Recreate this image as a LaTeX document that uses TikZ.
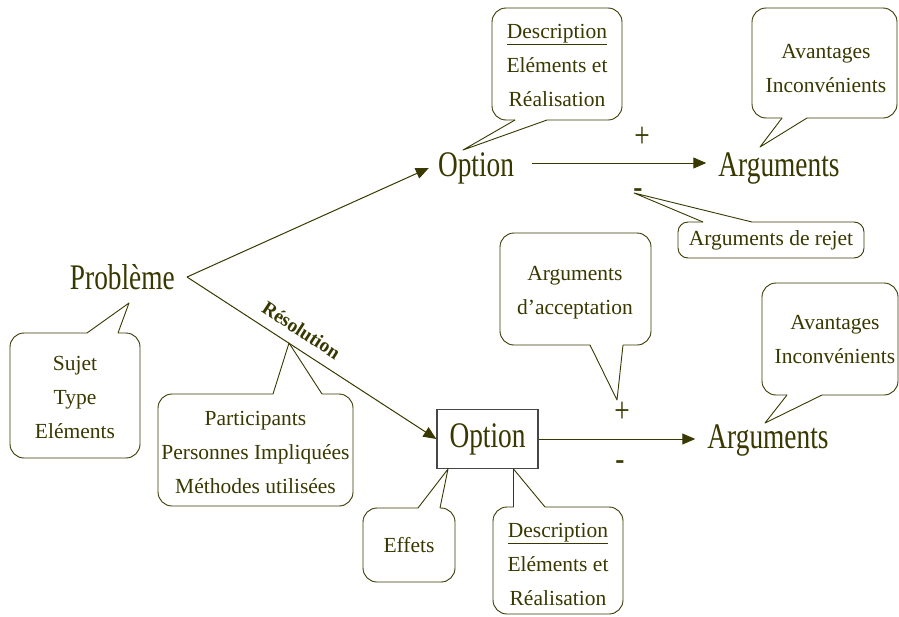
\documentclass[tikz,border=0pt]{standalone}
\usepackage{fontspec}
\setmainfont{Liberation Serif}
\newfontfamily\condfont{Liberation Serif}[FakeStretch=0.76]
\usetikzlibrary{arrows.meta}

\definecolor{ink}{RGB}{56,56,0}
\definecolor{boxgray}{RGB}{70,70,70}

\begin{document}
\begin{tikzpicture}[x=1pt, y=-1pt,
    bigtxt/.style={font=\condfont\fontsize{36}{36}\selectfont, text=ink},
    smalltxt/.style={font=\fontsize{21.5}{34}\selectfont, text=ink, align=center},
    link/.style={draw=ink, line width=1pt, -{Triangle[length=13pt, width=11pt]}},
    bubble/.style={draw=ink, line width=0.9pt, rounded corners=14pt},
    tail/.style={draw=ink, line width=0.9pt, line join=round}]

  \useasboundingbox (0,0) rectangle (899,616);

  % === Main chain ===
  \node[bigtxt, anchor=east, inner xsep=12pt] (prob) at (187,277) {Problème};
  \node[bigtxt, inner xsep=9pt] (opt1) at (476,168) {Option};
  \node[bigtxt, inner xsep=12pt] (arg1) at (779,168) {Arguments};
  \node[bigtxt, draw=boxgray, line width=1.2pt, minimum width=101pt, minimum height=59pt] (opt2) at (487.5,439) {Option};
  \node[bigtxt, inner xsep=12pt] (arg2) at (768,440) {Arguments};

  \draw[link] (prob.east) -- (opt1.west);
  \draw[link] (prob.east) -- (opt2.west)
    node[pos=0.42, sloped, above=7pt, font=\bfseries\fontsize{19.5}{19.5}\selectfont, text=ink] (resol) {Résolution};
  \draw[link, shorten <=9pt] ([yshift=5pt]opt1.east) -- ([yshift=5pt]arg1.west);
  \draw[link] (opt2.east) -- (opt2.east -| arg2.west);

  % Signs
  \node[bigtxt] (plus1) at (642,137) {+};
  \node[bigtxt] (minus1) at (638,194) {-};
  \node[bigtxt] (plus2) at (622,412) {+};
  \node[bigtxt] (minus2) at (620,466) {-};

  % === Callouts, top ===
  % Description of first option
  \draw[bubble] (547,120) -- (622,120) -- (622,8) -- (492,8) -- (492,120) -- (515,120);
  \draw[tail] (515,120) -- (463,150) -- (547,120);
  \node[smalltxt] (desc1) at (557,65) {\underline{Description}\\Eléments et\\Réalisation};

  % Pros and cons, first arguments
  \draw[bubble] (807,118) -- (897,118) -- (897,8) -- (752,8) -- (752,118) -- (782,118);
  \draw[tail] (782,118) -- (760,147) -- (807,118);
  \node[smalltxt] (adv1) at (826,69) {Avantages\\Inconvénients};

  % Rejection
  \draw[bubble, rounded corners=10pt] (752,222) -- (864,222) -- (864,258) -- (678,258) -- (678,222) -- (703,222);
  \draw[tail] (703,222) -- (634,193) -- (752,222);
  \node[smalltxt] (rejet) at (771,240) {Arguments de rejet};

  % Acceptance
  \draw[bubble] (623,345) -- (651,345) -- (651,233) -- (500,233) -- (500,345) -- (590,345);
  \draw[tail] (590,345) -- (617,400) -- (623,345);
  \node[smalltxt] (accept) at (575,293) {Arguments\\d’acceptation};

  % Pros and cons, second arguments
  \draw[bubble] (822,395) -- (898,395) -- (898,283) -- (762,283) -- (762,395) -- (787,395);
  \draw[tail] (787,395) -- (765,423) -- (822,395);
  \node[smalltxt] (adv2) at (835,340) {Avantages\\Inconvénients};

  % === Callouts, bottom ===
  % Problem details
  \draw[bubble] (87,333) -- (10,333) -- (10,458) -- (140,458) -- (140,333) -- (118,333);
  \draw[tail] (87,333) -- (129,303) -- (118,333);
  \node[smalltxt] (sujet) at (75,397) {Sujet\\Type\\Eléments};

  % People and methods
  \draw[bubble] (273,394) -- (158,394) -- (158,506) -- (353,506) -- (353,394) -- (322,394);
  \draw[tail] (273,394) -- (289,343) -- (322,394);
  \node[smalltxt] (partic) at (255.5,452) {Participants\\Personnes Impliquées\\Méthodes utilisées};

  % Effects
  \draw[bubble] (418,508) -- (363,508) -- (363,582) -- (455,582) -- (455,508) -- (440,508);
  \draw[tail] (418,508) -- (448,469) -- (440,508);
  \node[smalltxt] (effets) at (409,545) {Effets};

  % Description of second option
  \draw[bubble] (513.5,507) -- (493,507) -- (493,614) -- (623,614) -- (623,507) -- (545,507);
  \draw[tail] (513.5,507) -- (513.5,469) -- (545,507);
  \node[smalltxt] (desc2) at (558,564) {\underline{Description}\\Eléments et\\Réalisation};

\end{tikzpicture}
\end{document}
